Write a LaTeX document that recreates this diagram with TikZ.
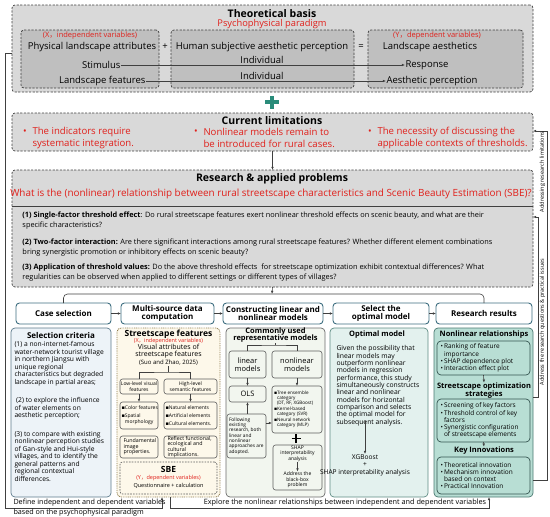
\documentclass[tikz,border=0pt]{standalone}
\usepackage{fontspec}
\setmainfont{Open Sans}
\newfontfamily\dejavu{DejaVu Sans}
\newfontfamily\cjk{Noto Sans CJK SC}
\usetikzlibrary{arrows.meta,fit}
\definecolor{myred}{HTML}{E0201B}
\definecolor{grayA}{HTML}{D9D9D9}
\definecolor{grayB}{HTML}{BFBFBF}
\definecolor{plusgreen}{HTML}{2A8C7A}
\definecolor{hdrborder}{HTML}{3E6E80}
\definecolor{selfill}{HTML}{EDF3F8}
\definecolor{selborder}{HTML}{5D7B8C}
\definecolor{stfill}{HTML}{FDF8EA}
\definecolor{stborder}{HTML}{8F7D4E}
\definecolor{cofill}{HTML}{F2F6EF}
\definecolor{coborder}{HTML}{6B6B6B}
\definecolor{opfill}{HTML}{E3F1EE}
\definecolor{opborder}{HTML}{5F8C84}
\definecolor{refill}{HTML}{B8DED4}
\definecolor{reborder}{HTML}{4B7A72}
\definecolor{linec}{HTML}{404040}
\newcommand\fs[2]{\fontsize{#1}{#2}\selectfont}
\newcommand\sqb{{\dejavu\char"25AA}}
\newcommand\fwc{{\cjk ，}}
\newcommand\bx[6]{\node[#1, inner sep=0pt, outer sep=0pt, fit={(#3,#4) (#5,#6)}] (#2) {};}
\tikzset{
  arr/.style={draw=linec, line width=0.6pt, -{Latex[length=3.2pt,width=2.6pt]}},
  ln/.style={draw=linec, line width=0.6pt},
  gout/.style={draw=linec, line width=0.7pt, dash pattern=on 2.2pt off 1.4pt, fill=grayA, rounded corners=3pt},
  gin/.style={draw=linec, line width=0.7pt, dash pattern=on 2.2pt off 1.4pt, fill=grayB, rounded corners=3pt},
  hdr/.style={draw=hdrborder, line width=0.9pt, fill=white, rounded corners=3.5pt},
  hdrt/.style={font=\fs{8}{8.8}\bfseries, align=center},
  colsel/.style={draw=selborder, line width=0.7pt, fill=selfill, rounded corners=4pt},
  colst/.style={draw=stborder, line width=0.9pt, dash pattern=on 0.9pt off 0.9pt, fill=stfill, rounded corners=4pt},
  stsub/.style={draw=linec!85, line width=0.6pt, fill=stfill, rounded corners=2.5pt},
  sbebox/.style={draw=linec!85, line width=0.6pt, dash pattern=on 1.6pt off 1.2pt, fill=stfill, rounded corners=2.5pt},
  colco/.style={draw=coborder, line width=0.7pt, fill=cofill, rounded corners=4pt},
  cosub/.style={draw=linec!85, line width=0.6pt, fill=cofill, rounded corners=2.5pt},
  colop/.style={draw=opborder, line width=0.7pt, fill=opfill, rounded corners=4pt},
  colre/.style={draw=reborder, line width=0.7pt, fill=refill, rounded corners=4pt},
  resub/.style={draw=reborder!70!black, line width=0.7pt, fill=refill, rounded corners=4pt},
  ttl/.style={font=\fs{10.5}{12}\bfseries},
  redt/.style={text=myred},
}
\begin{document}
\begin{tikzpicture}[x=1pt,y=-1pt, every node/.style={inner sep=0.5pt, outer sep=0pt}]
\useasboundingbox (0,0) rectangle (550,517);
% ---------------- Theoretical basis
\bx{gout}{tb}{12}{5}{533}{92}
\bx{gin}{tbl}{21}{30}{159}{88}
\bx{gin}{tbm}{171}{30}{354}{88}
\bx{gin}{tbr}{368}{30}{523}{88}
\node[ttl] (tbt) at (272,14) {Theoretical basis};
\node[redt, font=\fs{9.3}{10}] (tbp) at (272,24) {Psychophysical paradigm};
\node[redt, font=\fs{7.5}{8}] (xiv) at (90,36) {(X\fwc independent variables)};
\node[font=\fs{9.5}{10}] (pla) at (92,47) {Physical landscape attributes};
\node[font=\fs{9.5}{10}] (plus1) at (165,47) {+};
\node[font=\fs{9.5}{10}] (hsap) at (262,47) {Human subjective aesthetic perception};
\node[font=\fs{9.5}{10}] (eq) at (361,47) {=};
\node[redt, font=\fs{7.5}{8}] (yiv) at (437,36) {(Y\fwc dependent variables)};
\node[font=\fs{9.5}{10}] (la) at (430,47) {Landscape aesthetics};
\node[font=\fs{9.5}{10}, anchor=east] (stim) at (121,65) {Stimulus};
\node[font=\fs{9.5}{10}, anchor=west] (resp) at (405,65) {Response};
\node[font=\fs{9.5}{10}, anchor=east] (lf) at (146,81) {Landscape features};
\node[font=\fs{9.5}{10}, anchor=west] (ap) at (386,81) {Aesthetic perception};
\node[font=\fs{9.5}{10}] (ind1) at (262,60) {Individual};
\node[font=\fs{9.5}{10}] (ind2) at (262,76) {Individual};
\draw[arr] (stim.east) -- (resp.west);
\draw[arr] (lf.east) -- (ap.west);
% green plus
\coordinate (gp) at (272,102);
\draw[plusgreen, line width=3.2pt] ([xshift=-7pt]gp) -- ([xshift=7pt]gp);
\draw[plusgreen, line width=3.2pt] ([yshift=-6.5pt]gp) -- ([yshift=6.5pt]gp);
% ---------------- Current limitations
\bx{gout}{cl}{12}{113}{533}{151}
\node[ttl] (clt) at (272,120.5) {Current limitations};
\node[redt, font=\fs{9.6}{11.2}] (b1d) at (25,132) {•};
\node[redt, font=\fs{9.6}{11.2}, align=left, anchor=west] (b1) at (32,138) {The indicators require\\systematic integration.};
\node[redt, font=\fs{9.6}{11.2}] (b2d) at (196,132) {•};
\node[redt, font=\fs{9.6}{11.2}, align=left, anchor=west] (b2) at (203,138) {Nonlinear models remain to\\be introduced for rural cases.};
\node[redt, font=\fs{9.6}{11.2}] (b3d) at (370,132) {•};
\node[redt, font=\fs{9.6}{11.2}, align=left, anchor=west] (b3) at (377,138) {The necessity of discussing the\\applicable contexts of thresholds.};
% ---------------- Research & applied problems
\bx{gout}{rp}{12}{170}{533}{287}
\draw[arr] (cl.south) -- (rp.north);
\node[ttl] (rpt) at (272,179) {Research \& applied problems};
\node[redt, font=\fs{9.9}{10}] (rpq) at (271,194) {What is the (nonlinear) relationship between rural streetscape characteristics and Scenic Beauty Estimation (SBE)?};
\coordinate (sepy) at (0,206);
\draw[linec, line width=0.7pt] (rp.west |- sepy) -- (rp.east |- sepy);
\node[font=\fs{7.35}{10}, align=left, anchor=west] (q1) at (22,221) {\textbf{(1) Single-factor threshold effect}: Do rural streetscape features exert nonlinear threshold effects on scenic beauty, and what are their\\specific characteristics?};
\node[font=\fs{7.35}{10}, align=left, anchor=west] (q2) at (22,248) {\textbf{(2) Two-factor interaction:} Are there significant interactions among rural streetscape features? Whether different element combinations\\bring synergistic promotion or inhibitory effects on scenic beauty?};
\node[font=\fs{7.35}{10}, align=left, anchor=west] (q3) at (22,273) {\textbf{(3) Application of threshold values:} Do the above threshold effects\ \ for streetscape optimization exhibit contextual differences? What\\regularities can be observed when applied to different settings or different types of villages?};
% ---------------- header row
\bx{hdr}{cs}{16}{303}{111}{324}
\bx{hdr}{md}{121}{303}{214}{324}
\bx{hdr}{cm}{223}{303}{323}{324}
\bx{hdr}{so}{333}{303}{429}{324}
\bx{hdr}{rr}{436}{303}{532}{324}
\node[hdrt] (cst) at (cs) {Case selection};
\node[hdrt] (mdt) at (md) {Multi-source data\\computation};
\node[hdrt] (cmt) at (cm) {Constructing linear and\\nonlinear models};
\node[hdrt] (sot2) at (so) {Select the\\optimal model};
\node[hdrt] (rrt) at (rr) {Research results};
\draw[arr] (cs.east) -- (md.west);
\draw[arr] (md.east) -- (cm.west);
\draw[arr] (cm.east) -- (so.west);
\draw[arr] (so.east) -- (rr.west);
\coordinate (br) at (272,294);
\draw[arr] (rp.south) -- (br);
\draw[ln, rounded corners=4pt] (cs.north) -- (cs.north |- br) -- (rr.north |- br) -- (rr.north);
% ---------------- columns
\bx{colsel}{selc}{11}{328}{111}{497}
\bx{colst}{mdc}{117}{328}{220}{497}
\bx{colco}{cmc}{226}{328}{325}{497}
\bx{colop}{soc}{330}{328}{428}{497}
\bx{colre}{rrc}{434}{328}{533}{497}
% selection criteria
\node[font=\fs{8}{9}\bfseries] (selt) at (61,335) {Selection criteria};
\node[font=\fs{6.7}{7.5}, align=left, anchor=north west] (selx) at (14,341) {(1) a non-internet-famous\\water-network tourist village\\in northern Jiangsu with\\unique regional\\characteristics but degraded\\landscape in partial areas;\\[11pt]\ (2) to explore the influence\\of water elements on\\aesthetic perception;\\[11pt](3) to compare with existing\\nonlinear perception studies\\of Gan-style and Hui-style\\villages, and to identify the\\general patterns and\\regional contextual\\differences.};
% streetscape features
\node[font=\fs{8.5}{9}\bfseries] (stt) at (168.5,334) {Streetscape features};
\node[redt, font=\fs{5.5}{6}] (stx) at (168.5,341) {(X\fwc independent variables)};
\node[font=\fs{7}{7}, align=center] (stv) at (168.5,351.5) {Visual attributes of\\streetscape features};
\node[font=\fs{6}{6}] (stc) at (168.5,363) {(Suo and Zhao, 2025)};
\bx{stsub}{low}{120}{379}{158}{394}
\bx{stsub}{high}{164}{379}{217}{394}
\node[font=\fs{5}{5.5}, align=center] (lowt) at (low) {Low-level visual\\features};
\node[font=\fs{5}{5.5}, align=center] (hight) at (high) {High-level\\semantic features};
\coordinate (stj) at (168.5,372);
\draw[ln] (stc.south) -- (stj);
\draw[ln] (low.north) |- (stj) -| (high.north);
\bx{stsub}{lm}{120}{402}{158}{429}
\bx{stsub}{rm}{164}{402}{217}{429}
\draw[arr] (low.south) -- (lm.north);
\draw[arr] (high.south) -- (rm.north);
\node[font=\fs{5}{6}, align=left, anchor=west] (lmt) at (121,415.5) {\sqb Color features\\[2pt]\sqb Spatial\\\hphantom{\sqb}morphology};
\node[font=\fs{5}{6}, align=left, anchor=west] (rmt) at (165,415.5) {\sqb Natural elements\\[2pt]\sqb Artificial elements\\[2pt]\sqb Cultural elements.};
\bx{stsub}{lb}{120}{436}{158}{458}
\bx{stsub}{rb}{164}{436}{217}{458}
\node[font=\fs{5.3}{5.6}, align=left, anchor=west] (lbt) at (123,447) {Fundamental\\image\\properties.};
\node[font=\fs{5.3}{5}, align=left, anchor=west] (rbt) at (167,447) {Reflect functional,\\ecological and\\cultural\\implications.};
\bx{sbebox}{sbe}{120}{462}{217}{494}
\node[font=\fs{8.5}{9}\bfseries] (sbet) at (168.5,469) {SBE};
\node[redt, font=\fs{5.5}{6}] (sbey) at (168.5,478) {(Y\fwc dependent variables)};
\node[font=\fs{5.5}{6}] (sbeq) at (168.5,486) {Questionnaire + calculation};
% constructing models
\node[font=\fs{7.5}{7.5}\bfseries, align=center] (cot) at (275.5,335) {Commonly used\\representative models};
\bx{cosub}{lin}{229}{351}{266}{378}
\bx{cosub}{nlin}{272}{351}{322}{378}
\node[font=\fs{7.5}{8.5}, align=center] (lint) at (lin) {linear\\models};
\node[font=\fs{7.5}{8.5}, align=center] (nlint) at (nlin) {nonlinear\\models};
\coordinate (coj) at (275.5,345);
\draw[ln] (cot.south) -- (coj);
\draw[ln] (lin.north) |- (coj) -| (nlin.north);
\bx{cosub}{ols}{229}{386}{266}{402}
\node[font=\fs{7.5}{8}] (olst) at (ols) {OLS};
\bx{cosub}{nlist}{272}{386}{322}{433}
\node[font=\fs{4.6}{4.6}, align=left, anchor=west] (nlistt) at (273.5,409.5) {\sqb Tree ensemble\\\hphantom{\sqb}category\\\hphantom{\sqb}(DT, RF, XGBoost)\\[2pt]\sqb Kernel-based\\\hphantom{\sqb}category (SVR)\\[2pt]\sqb Neural network\\\hphantom{\sqb}category (MLP)};
\draw[arr] (lin.south) -- (ols.north);
\draw[arr] (nlin.south) -- (nlist.north);
\bx{cosub}{fol}{227}{414}{266}{458}
\node[font=\fs{4.8}{5.3}, align=left, anchor=west] (folt) at (228.5,436) {Following\\existing\\research, both\\linear and\\nonlinear\\approaches are\\adopted.};
\draw[arr] (ols.south |- fol.north) -- (ols.south);
\coordinate (fay) at (0,423);
\draw[arr] (fol.east |- fay) -- (nlist.west |- fay);
\coordinate (cop) at (296,438.5);
\draw[black, line width=1.6pt] ([xshift=-4.5pt]cop) -- ([xshift=4.5pt]cop);
\draw[black, line width=1.6pt] ([yshift=-4.5pt]cop) -- ([yshift=4.5pt]cop);
\bx{cosub}{shap}{273}{445}{322}{490}
\node[font=\fs{5}{5.5}, align=center] (shapt) at (297.5,453.5) {SHAP\\interpretability\\analysis};
\node[font=\fs{5}{5.5}, align=center] (shapb) at (297.5,480) {Address the\\black-box\\problem};
\draw[arr] (shapt.south) -- (shapb.north);
% optimal model
\node[font=\fs{7.5}{8}\bfseries] (opt) at (377,335) {Optimal model};
\node[font=\fs{6.8}{7.35}, align=left, anchor=north west] (opx) at (336,345) {Given the possibility that\\linear models may\\outperform nonlinear\\models in regression\\performance, this study\\simultaneously constructs\\linear and nonlinear\\models for horizontal\\comparison and selects\\the optimal model for\\subsequent analysis.};
\node[font=\fs{6.6}{7}] (xgb) at (365,457) {XGBoost};
\draw[arr] ([yshift=5pt]xgb.north |- opx.south) -- (xgb.north);
\node[font=\fs{6.6}{7}] (opplus) at (365,465) {+};
\node[font=\fs{6.6}{7}] (shapia) at (365,473) {SHAP interpretability analysis};
% research results
\node[font=\fs{7.5}{8}\bfseries] (nrt) at (484,335) {Nonlinear relationships};
\bx{resub}{rb1}{437}{341}{530}{375}
\node[font=\fs{6.5}{7.2}, align=left, anchor=west] (rb1t) at (440,358) {•\,Ranking of feature\\\hphantom{•\,}importance\\•\,SHAP dependence plot\\•\,Interaction effect plot};
\node[font=\fs{7.5}{8}\bfseries, align=center] (sott) at (484,391) {Streetscape optimization\\strategies};
\draw[arr] (rb1.south) -- (sott.north);
\bx{resub}{rb2}{437}{399}{530}{442}
\node[font=\fs{6.5}{7.2}, align=left, anchor=west] (rb2t) at (440,420.5) {•\,Screening of key factors\\•\,Threshold control of key\\\hphantom{•\,}factors\\•\,Synergistic configuration\\\hphantom{•\,}of streetscape elements};
\node[font=\fs{7.5}{8}\bfseries] (kit) at (484,451) {Key Innovations};
\draw[arr] (rb2.south) -- (kit.north);
\bx{resub}{rb3}{437}{457}{530}{494}
\node[font=\fs{6.5}{7.2}, align=left, anchor=west] (rb3t) at (440,475.5) {•\,Theoretical innovation\\•\,Mechanism innovation\\\hphantom{•\,}based on context\\•\,Practical Innovation};
% ---------------- bottom brackets
\coordinate (lc1) at (5,53);
\coordinate (botl) at (162,508);
\draw[arr] (tb.west |- lc1) -- (lc1) |- (botl) -- (botl |- mdc.south);
\node[font=\fs{7.2}{7}, anchor=west] (def1) at (13,503) {Define independent and dependent variables};
\node[font=\fs{7.2}{7}, anchor=west] (def2) at (13,513) {based on the psychophysical paradigm};
\coordinate (botr) at (170,508);
\coordinate (botre) at (489,508);
\draw[arr] (mdc.south -| botr) -- (botr) -- (botre) -- (botre |- rrc.south);
\node[font=\fs{7.3}{7}] (expl) at (345,503) {Explore the nonlinear relationships between independent and dependent variables};
% ---------------- right side feedback
\coordinate (ro) at (547,131);
\coordinate (ro2) at (547,480);
\draw[arr] (rrc.east |- ro2) -- (ro2) -- (ro) -- (cl.east |- ro);
\coordinate (ri) at (538,217);
\coordinate (ri2) at (538,397);
\draw[arr] (rrc.east |- ri2) -- (ri2) -- (ri) -- (rp.east |- ri);
\node[font=\fs{5.5}{6}, rotate=90] (rt1) at (542.5,172) {Addressing research limitations};
\node[font=\fs{5.5}{6}, rotate=90] (rt2) at (542.5,322) {Address the research questions \& practical issues};
\end{tikzpicture}
\end{document}
